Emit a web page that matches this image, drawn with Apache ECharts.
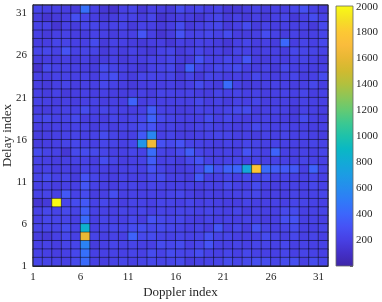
<!DOCTYPE html>
<html><head><meta charset="utf-8">
<script src="https://cdn.jsdelivr.net/npm/echarts@6/dist/echarts.min.js"></script>
<style>html,body{margin:0;padding:0;background:#fff}#c{width:382px;height:302px}</style>
</head><body><div id="c"></div>
<script>
// Doppler index categories (cells 1..31) and delay index categories (cells 1..31)
const dopplerCategories = Array.from({length:31},(_,i)=>String(i+1));
const delayCategories = Array.from({length:31},(_,i)=>String(i+1));
// Tick labels
const dopplerTicks = [1,6,11,16,21,26,31];
const delayTicks = [1,6,11,16,21,26,31];
const colorbarTicks = [200,400,600,800,1000,1200,1400,1600,1800,2000];
const colorMin = 0, colorMax = 2005;
// Cell magnitudes, rows from delay 31 (top) down to delay 1, columns Doppler 1..31
const cellValues = [
[230,200,200,190,170,450,200,150,120,200,220,150,200,180,160,260,200,230,190,210,150,150,180,210,180,200,190,230,290,200,170],
[180,140,170,190,280,230,190,160,180,210,210,180,230,130,170,190,180,150,200,230,170,200,170,200,170,200,220,160,200,260,210],
[210,210,140,200,180,230,230,200,210,220,170,210,200,170,190,260,170,200,220,240,170,200,260,180,210,190,200,200,210,170,250],
[200,170,200,210,190,180,210,200,180,200,200,310,200,140,180,300,210,220,240,210,260,190,180,200,270,210,180,210,190,200,230],
[190,190,230,220,200,200,260,170,210,200,180,160,190,190,150,200,180,210,200,180,150,200,230,190,200,180,410,190,220,200,240],
[230,240,210,300,210,220,220,170,200,180,210,180,160,210,230,170,200,230,190,200,170,220,210,190,200,200,180,240,230,220,210],
[180,190,190,200,180,200,170,180,200,170,190,190,210,200,230,180,170,300,210,200,240,200,310,190,180,200,190,210,220,200,180],
[120,250,210,210,200,190,180,260,220,200,190,160,210,220,240,160,370,220,200,240,230,260,200,190,210,170,240,200,200,190,200],
[200,190,210,210,200,210,190,240,280,200,180,230,230,210,220,170,220,170,230,210,190,200,190,240,200,190,200,230,190,200,260],
[190,170,200,220,190,200,200,240,210,190,170,190,200,190,200,180,200,260,200,180,430,210,180,190,200,210,200,190,200,240,190],
[200,180,210,170,190,200,190,200,190,180,190,200,180,220,210,200,210,190,180,220,200,220,200,210,190,200,210,200,230,190,210],
[210,200,190,200,190,200,210,190,200,190,380,190,210,200,200,200,200,240,190,210,180,210,200,230,190,200,200,190,210,200,200],
[190,180,200,210,210,260,200,230,210,200,190,200,350,210,200,180,190,220,210,200,220,250,260,190,200,210,200,170,210,200,190],
[230,250,210,220,250,190,200,190,230,200,220,240,380,250,220,200,200,200,260,200,240,200,190,200,210,200,190,180,260,200,190],
[190,190,200,200,210,210,180,210,190,210,220,260,300,200,210,190,190,210,220,200,200,190,200,250,210,200,210,200,200,190,200],
[180,190,200,210,220,200,210,260,220,200,200,330,570,200,220,190,190,200,210,230,220,200,200,190,210,200,220,200,210,200,190],
[180,190,200,220,240,210,200,230,220,200,240,650,1650,290,250,300,220,210,200,190,210,200,230,220,200,210,200,200,200,220,210],
[260,220,210,150,250,260,250,230,200,200,230,210,430,220,200,250,350,230,200,200,210,200,300,230,200,380,200,200,210,200,230],
[210,200,190,200,210,210,190,270,220,190,200,210,350,200,210,180,240,300,210,200,210,230,200,220,200,210,200,200,220,210,200],
[200,210,190,200,180,220,200,200,190,200,210,200,300,220,190,180,200,250,420,280,370,400,770,1780,420,350,330,330,200,380,220],
[220,260,210,230,180,300,230,200,190,210,200,200,250,260,200,200,180,330,200,200,230,200,240,220,270,200,210,200,200,230,200],
[200,210,190,200,200,320,210,200,190,210,220,200,230,210,200,200,200,190,210,200,250,210,200,260,200,190,200,210,200,240,210],
[210,220,200,330,210,260,190,200,280,200,210,200,210,200,220,240,200,180,200,190,200,210,220,240,190,200,190,220,200,210,230],
[140,160,2005,230,260,330,210,240,200,190,220,210,200,230,220,200,230,200,210,200,190,190,220,200,200,210,200,230,220,210,200],
[210,240,220,250,220,360,210,210,200,220,210,230,200,220,210,230,220,210,230,210,200,230,190,210,200,200,250,260,200,210,220],
[200,240,230,230,200,420,200,230,210,200,240,190,300,250,230,240,200,190,220,200,210,200,220,210,190,200,280,300,200,210,200],
[220,230,220,270,210,850,200,220,240,230,270,280,250,260,240,220,200,220,190,310,200,240,190,300,220,200,220,260,200,200,230],
[180,160,200,240,200,1600,220,200,210,200,380,250,260,220,210,230,210,220,290,220,230,200,200,210,260,220,200,240,200,220,200],
[200,210,190,220,230,550,180,200,230,210,220,200,200,260,240,260,200,230,300,210,200,220,200,230,220,210,240,200,210,200,210],
[210,200,190,200,240,450,200,200,210,200,220,200,260,210,260,230,220,270,210,200,230,200,240,210,200,200,230,200,220,210,200],
[230,220,210,200,250,420,200,190,210,230,200,220,240,220,230,250,180,200,210,220,260,230,250,280,270,230,260,280,200,260,230]
];
// parula-like colour stops
const parulaStops = [
[0.00,'#3e26a8'],[0.05,'#4330c8'],[0.10,'#4740e4'],[0.15,'#4652f5'],[0.20,'#3c66fc'],
[0.25,'#307af8'],[0.30,'#268cee'],[0.35,'#1c9ce4'],[0.40,'#12aad6'],[0.45,'#0ab8c4'],
[0.50,'#1ec2aa'],[0.55,'#3cc891'],[0.60,'#64ca73'],[0.65,'#8cc658'],[0.70,'#b2c03e'],
[0.75,'#d0ba30'],[0.80,'#e8b834'],[0.85,'#fabc3c'],[0.90,'#fcc834'],[0.95,'#f5e124'],[1.00,'#f9fb14']
];

const heatData = [];
cellValues.forEach((row, r) => {
  const yi = cellValues.length - 1 - r;
  row.forEach((v, xi) => heatData.push([xi, yi, v]));
});

const font = 'Liberation Serif, Times New Roman, serif';
const txt = '#262626';
const chart = echarts.init(document.getElementById('c'), null, {renderer:'canvas'});
chart.setOption({
  animation:false,
  backgroundColor:'#fff',
  grid:[
    {left:33, top:5, width:295, height:261, containLabel:false, outerBoundsMode:'none', show:true, borderColor:'#262626', borderWidth:1, backgroundColor:'transparent', z:10},
    {left:336, top:6, width:17, height:260, containLabel:false, outerBoundsMode:'none', show:true, borderColor:'#666', borderWidth:0.8, z:10}
  ],
  visualMap:{show:false, min:colorMin, max:colorMax, seriesIndex:0, dimension:2,
    inRange:{color: parulaStops.map(s=>s[1])}},
  xAxis:[
    {type:'category', data:dopplerCategories, gridIndex:0, axisLine:{show:false}, axisTick:{show:false}, axisLabel:{show:false}, splitLine:{show:false}},
    {type:'value', gridIndex:0, min:0, max:31, interval:5, position:'bottom',
      axisLine:{show:true, lineStyle:{color:'#262626', width:1}}, axisTick:{show:false}, splitLine:{show:false},
      axisLabel:{fontFamily:font, fontSize:11, color:txt, margin:6,
        formatter:v=> dopplerTicks.includes(v+1) ? String(v+1) : ''},
      name:'Doppler index', nameLocation:'middle', nameGap:20, nameMoveOverlap:false,
      nameTextStyle:{fontFamily:font, fontSize:13, color:txt}},
    {type:'category', data:['c'], gridIndex:1, show:false}
  ],
  yAxis:[
    {type:'category', data:delayCategories, gridIndex:0, axisLine:{show:false}, axisTick:{show:false}, axisLabel:{show:false}, splitLine:{show:false}},
    {type:'value', gridIndex:0, min:0, max:31, interval:5, position:'left',
      axisLine:{show:true, lineStyle:{color:'#262626', width:1}}, axisTick:{show:false}, splitLine:{show:false},
      axisLabel:{fontFamily:font, fontSize:11, color:txt, margin:6,
        formatter:v=> delayTicks.includes(v+1) ? String(v+1) : ''},
      name:'Delay index', nameLocation:'middle', nameGap:19, nameMoveOverlap:false,
      nameTextStyle:{fontFamily:font, fontSize:13, color:txt}},
    {type:'value', gridIndex:1, min:colorMin, max:colorMax, interval:200, position:'right',
      axisLine:{show:false}, splitLine:{show:false},
      axisTick:{show:true, inside:true, length:3, lineStyle:{color:'#444', width:0.8}},
      axisLabel:{fontFamily:font, fontSize:11, color:txt, margin:3,
        formatter:v=> colorbarTicks.includes(v) ? String(v) : ''}}
  ],
  series:[
    {type:'heatmap', xAxisIndex:0, yAxisIndex:0, data:heatData,
      itemStyle:{borderColor:'rgba(0,0,0,0.75)', borderWidth:0.6}, emphasis:{disabled:true}},
    {type:'bar', xAxisIndex:2, yAxisIndex:2, data:[colorMax], barWidth:'100%',
      itemStyle:{color:{type:'linear', x:0, y:0, x2:0, y2:1,
        colorStops: parulaStops.slice().reverse().map(s=>({offset:1-s[0], color:s[1]}))}}}
  ]
});
</script></body></html>
